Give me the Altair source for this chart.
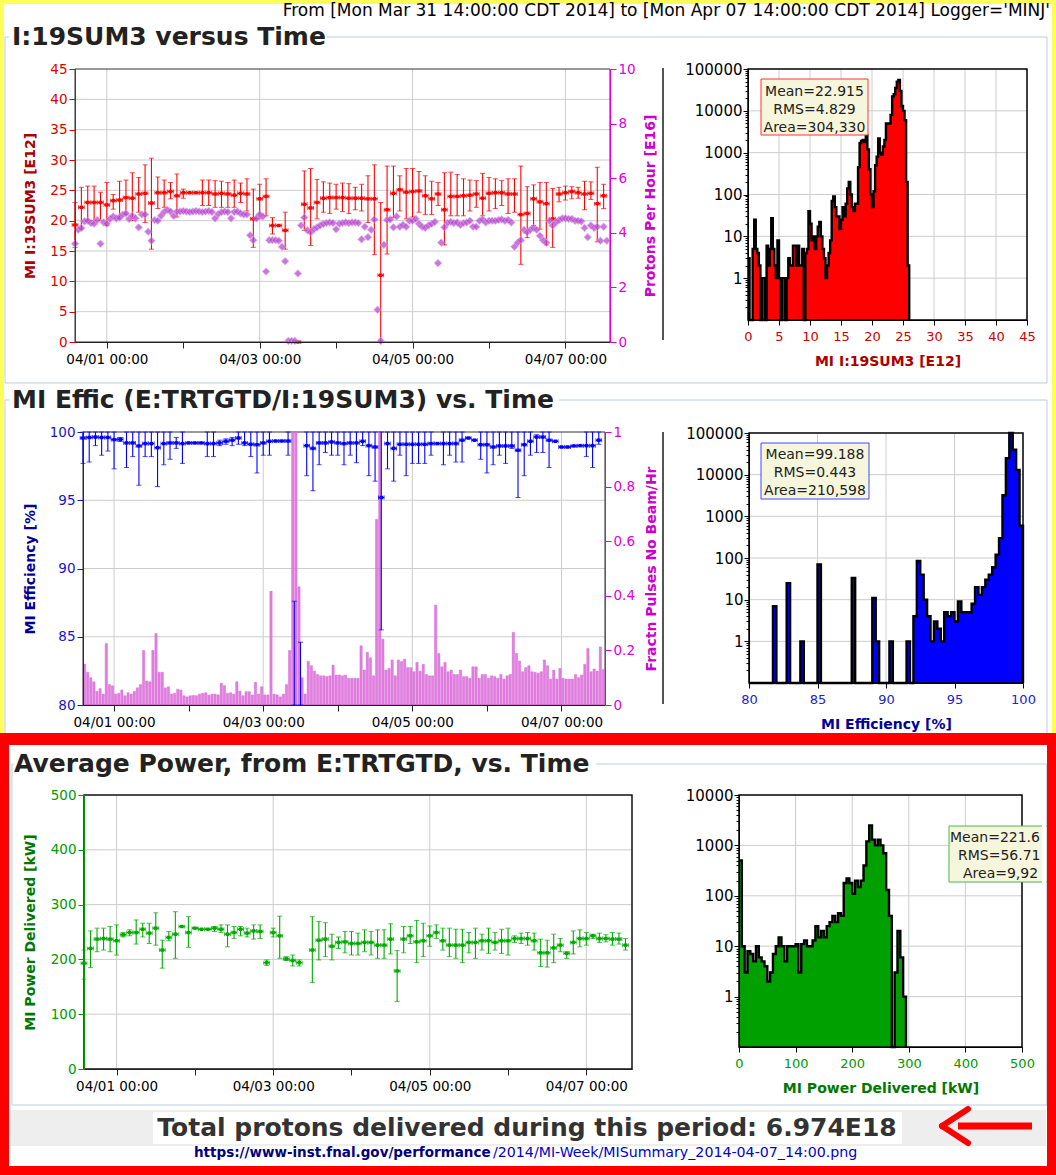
import altair as alt
import pandas as pd

W, H = 1056, 1175
FONT = "DejaVu Sans"

# ---------------- text ----------------
HEADER = "From [Mon Mar 31 14:00:00 CDT 2014] to [Mon Apr 07 14:00:00 CDT 2014] Logger='MINJ'"
SECTION_TITLES = ["I:19SUM3 versus Time", "MI Effic (E:TRTGTD/I:19SUM3) vs. Time",
                  "Average Power, from E:TRTGTD, vs. Time"]
TOTAL_TEXT = "Total protons delivered during this period: 6.974E18"
URL_HEAD = "https://www-inst.fnal.gov/performance"
URL_TAIL = "/2014/MI-Week/MISummary_2014-04-07_14:00.png"
STATS1 = ["Mean=22.915", "RMS=4.829", "Area=304,330"]
STATS2 = ["Mean=99.188", "RMS=0.443", "Area=210,598"]
STATS3 = ["Mean=221.6", "RMS=56.71", "Area=9,92"]   # box is cut off at the panel edge

# ---------------- time axis (hours since Mar 31 14:00) ----------------
TIME_TICKS = [10, 34, 58, 82, 106, 130, 154]
TIME_LABELS = ["04/01 00:00", "", "04/03 00:00", "", "04/05 00:00", "", "04/07 00:00"]
TIME_GRID = [10, 58, 106, 154]
HOURS = list(range(168))
HOURS2 = list(range(0, 168, 2))

# ---------------- I:19SUM3 (2-hour averages, E12) ----------------
I19_MEAN = [19.3, 22.2, 23.0, 23.0, 23.0, 22.6, 23.3, 23.4, 23.8, 23.7,
            24.4, 24.5, 22.9, 24.6, 24.6, 24.8, 24.1, 24.6, 24.6, 24.6,
            24.6, 24.6, 24.4, 24.5, 24.4, 24.2, 24.5, 24.4, 20.3, 23.6,
            24.0, 19.2, 19.2, 18.4, None, 0.0, 22.7, 22.1, 23.0, 23.7,
            23.8, 23.8, 23.8, 23.7, 23.7, 23.7, 23.6, 23.6, 11.0, 21.8,
            24.5, 25.1, 24.7, 24.8, 24.9, 24.1, 23.6, 24.4, 21.8, 24.0,
            24.0, 24.1, 24.2, 24.4, 23.7, 24.5, 24.6, 24.6, 24.4, 24.4,
            21.0, 21.2, 23.6, 23.1, 22.8, 20.3, 24.4, 24.6, 24.8, 24.6,
            24.4, 24.5, 22.8, 24.1]
I19_LO = [15.6, 18.6, 20.0, 20.0, 20.0, 19.2, 21.9, 20.3, 21.0, 20.0,
          21.4, 19.7, 15.3, 22.0, 22.2, 23.6, 20.6, 23.7, 24.6, 24.6,
          22.5, 22.5, 22.2, 22.2, 22.2, 22.2, 23.0, 21.6, 15.6, 20.3,
          20.8, 17.8, 19.2, 15.3, None, 0.0, 18.4, 15.9, 20.3, 21.4,
          21.2, 21.9, 21.5, 21.2, 21.8, 21.6, 19.7, 14.4, 0.0, 14.5,
          20.5, 21.6, 20.3, 20.6, 21.4, 21.0, 21.0, 22.5, 16.0, 20.8,
          20.8, 20.8, 21.6, 22.2, 20.8, 21.6, 22.0, 22.5, 21.2, 21.4,
          12.8, 17.2, 19.2, 18.6, 16.0, 15.6, 23.1, 23.4, 23.6, 23.7,
          21.8, 23.5, 16.5, 22.0]
I19_HI = [23.0, 25.5, 25.7, 25.7, 24.7, 26.3, 24.3, 26.5, 26.7, 27.9,
          27.1, 29.2, 30.3, 27.2, 26.7, 26.3, 27.7, 25.2, 24.6, 24.6,
          26.7, 26.7, 26.6, 26.5, 26.3, 26.7, 26.2, 26.9, 25.2, 26.0,
          26.9, 20.5, 19.2, 21.4, None, 0.0, 28.2, 28.6, 26.8, 26.4,
          26.2, 26.0, 26.2, 26.1, 25.5, 26.0, 27.4, 29.2, 23.0, 29.0,
          29.0, 27.4, 28.6, 28.6, 28.1, 27.4, 26.5, 26.3, 27.9, 28.0,
          27.6, 26.9, 26.7, 26.6, 27.8, 27.1, 26.9, 26.6, 26.9, 26.9,
          29.0, 25.6, 25.9, 26.3, 26.3, 25.3, 25.5, 25.7, 25.6, 25.5,
          26.5, 26.4, 28.8, 26.0]

# ---------------- protons per hour (E16), hourly ----------------
PPH = [3.60, 4.11, 4.18, 4.42, 4.44, 4.36, 4.33, 4.47, 3.60, 4.38,
       4.33, 4.51, 4.60, 4.53, 4.56, 4.67, 4.71, 4.51, 4.62, 4.53,
       4.20, 4.67, 4.67, 4.04, 3.71, 4.47, 4.44, 4.62, 4.76, 4.84,
       4.78, 4.62, 4.78, 4.78, 4.80, 4.78, 4.76, 4.78, 4.80, 4.78,
       4.76, 4.78, 4.80, 4.76, 4.53, 4.69, 4.76, 4.78, 4.76, 4.53,
       4.76, 4.78, 4.71, 4.67, 4.67, 3.91, 3.73, 4.53, 4.67, 4.60,
       2.58, 3.73, 3.73, 3.73, 3.71, 3.49, 2.96, 0.04, 0.04, 0.04,
       2.51, 4.27, 4.56, 4.09, 4.02, 4.13, 4.20, 4.27, 4.33, 4.36,
       4.38, 4.36, 4.13, 4.33, 4.36, 4.38, 4.36, 4.38, 4.38, 4.36,
       3.76, 4.22, 3.84, 4.11, 4.49, 1.18, 0.04, 3.56, 4.47, 4.49,
       4.20, 4.60, 4.22, 4.29, 4.22, 4.44, 4.44, 4.51, 4.33, 4.22,
       4.18, 4.27, 4.33, 4.40, 2.89, 3.64, 4.20, 4.36, 4.40, 4.36,
       4.38, 4.29, 4.36, 4.38, 4.44, 4.22, 4.22, 4.44, 4.49, 4.38,
       4.44, 4.44, 4.44, 4.47, 4.49, 4.44, 4.47, 4.38, 3.49, 3.64,
       3.73, 4.11, 4.02, 4.11, 4.18, 4.11, 3.89, 3.73, 3.64, 4.44,
       4.27, 4.38, 4.47, 4.53, 4.53, 4.51, 4.51, 4.44, 4.44, 4.42,
       4.18, 3.84, 4.27, 4.18, 4.22, 3.71, 4.22, 3.71]

# ---------------- MI efficiency (2-hour, %) ----------------
EFF_MEAN = [99.56, 99.6, 99.63, 99.6, 99.6, 99.44, 99.46, 99.2, 99.2, 98.98,
            99.15, 99.15, 98.85, 99.15, 99.2, 99.2, 99.15, 99.2, 99.2, 99.2,
            99.15, 99.15, 99.2, 99.32, 99.4, 99.56, 99.2, 99.1, 99.07, 99.2,
            99.32, 99.34, 99.34, 99.34, None, None, 99.0, 98.8, 99.2, 99.2,
            99.27, 99.2, 99.15, 99.2, 99.2, 99.32, 99.0, 98.9, 95.2, 99.15,
            98.8, 99.1, 99.1, 99.1, 99.1, 99.1, 99.15, 99.15, 99.15, 99.15,
            99.15, 99.4, 99.56, 99.4, 99.07, 99.07, 98.9, 98.98, 98.98, 98.98,
            98.66, 99.07, 99.32, 99.63, 99.63, 99.4, 99.32, 98.9, 98.9, 98.98,
            99.0, 99.0, 99.0, 99.4]
EFF_LO = [97.7, 97.8, 99.0, 98.3, 98.6, 97.3, 99.3, 97.4, 98.2, 96.1,
          98.2, 98.2, 96.0, 97.6, 98.0, 98.8, 97.7, 99.2, 99.2, 99.2,
          98.2, 98.2, 99.0, 99.1, 99.0, 99.1, 99.0, 98.2, 97.0, 98.3,
          98.3, 99.34, 99.34, 98.3, 79.0, 79.0, 96.8, 95.7, 97.6, 98.5,
          98.3, 98.3, 97.6, 98.3, 97.75, 99.0, 96.8, 96.4, 85.5, 97.3,
          96.4, 98.3, 96.8, 97.7, 97.7, 97.7, 98.3, 99.15, 97.6, 98.3,
          97.8, 97.8, 99.56, 99.4, 98.0, 97.0, 97.6, 98.3, 97.7, 98.8,
          95.2, 96.8, 98.3, 98.5, 98.5, 97.4, 99.32, 98.9, 98.9, 98.98,
          99.0, 98.2, 97.4, 99.1]
EFF_HI = [100, 100, 100, 100, 100, 100, 99.6, 100, 100, 100,
          100, 100, 100, 100, 100, 99.6, 100, 99.2, 99.2, 99.2,
          100, 100, 99.4, 99.5, 99.6, 100, 100, 100, 100, 100,
          100, 99.34, 99.34, 100, 87.6, 84.6, 100, 100, 100, 100,
          100, 100, 100, 100, 100, 100, 100, 100, 100, 100,
          100, 100, 100, 100, 100, 100, 100, 99.15, 100, 100,
          100, 100, 99.56, 99.4, 100, 100, 100, 100, 100, 100,
          100, 100, 100, 99.8, 100, 100, 99.32, 98.9, 98.9, 98.98,
          99.0, 100, 100, 100]

# ---------------- fraction of pulses with no beam, hourly ----------------
NOBEAM = [0.15, 0.12, 0.10, 0.085, 0.05, 0.06, 0.04, 0.225, 0.075, 0.07,
          0.04, 0.043, 0.055, 0.034, 0.045, 0.04, 0.05, 0.063, 0.075, 0.2,
          0.088, 0.085, 0.2, 0.262, 0.12, 0.12, 0.063, 0.067, 0.04, 0.043,
          0.058, 0.055, 0.034, 0.03, 0.034, 0.035, 0.034, 0.04, 0.043, 0.045,
          0.036, 0.04, 0.04, 0.037, 0.08, 0.071, 0.043, 0.045, 0.04, 0.085,
          0.051, 0.034, 0.049, 0.049, 0.037, 0.083, 0.04, 0.067, 0.037, 0.037,
          0.417, 0.04, 0.037, 0.03, 0.04, 0.075, 0.2, 1.2, 1.2, 0.433,
          0.1, 0.04, 0.16, 0.144, 0.124, 0.112, 0.107, 0.107, 0.104, 0.107,
          0.146, 0.11, 0.11, 0.107, 0.11, 0.098, 0.098, 0.098, 0.098, 0.217,
          0.128, 0.193, 0.173, 0.107, 0.68, 1.2, 0.241, 0.128, 0.134, 0.165,
          0.107, 0.165, 0.159, 0.168, 0.137, 0.137, 0.122, 0.156, 0.124, 0.149,
          0.112, 0.107, 0.107, 0.366, 0.189, 0.14, 0.156, 0.122, 0.128, 0.112,
          0.112, 0.128, 0.104, 0.104, 0.098, 0.14, 0.14, 0.098, 0.112, 0.112,
          0.098, 0.107, 0.104, 0.098, 0.112, 0.095, 0.107, 0.112, 0.266, 0.189,
          0.161, 0.122, 0.137, 0.144, 0.122, 0.12, 0.116, 0.122, 0.165, 0.144,
          0.095, 0.128, 0.095, 0.134, 0.098, 0.095, 0.095, 0.095, 0.112, 0.1,
          0.11, 0.149, 0.207, 0.122, 0.132, 0.124, 0.213, 0.13]

# ---------------- MI power delivered (2-hour, kW) ----------------
PWR_MEAN = [193, 220, 237, 238, 237, 234, 245, 249, 249, 255,
            248, 257, 217, 240, 246, 260, 249, 257, 255, 255,
            257, 255, 246, 249, 255, 248, 252, 251, 194, 249,
            243, 201, 198, 194, None, 217, 235, 237, 224, 231,
            232, 229, 229, 231, 231, 226, 226, 237, 179, 237,
            243, 232, 234, 243, 249, 234, 226, 226, 226, 231,
            231, 234, 234, 231, 234, 234, 238, 238, 238, 234,
            212, 212, 221, 226, 211, 231, 238, 238, 243, 238,
            238, 237, 237, 226]
PWR_LO = [164, 185, 214, 217, 214, 208, 241, 243, 228, 241,
          229, 226, 184, 234, 202, 260, 222, 257, 255, 255,
          251, 249, 223, 238, 243, 241, 237, 238, 189, 241,
          202, 198, 188, 188, None, 158, 199, 205, 199, 220,
          212, 208, 208, 214, 208, 202, 202, 210, 123, 212,
          229, 194, 205, 224, 238, 217, 205, 202, 194, 212,
          202, 217, 211, 217, 211, 208, 231, 229, 226, 217,
          187, 186, 194, 214, 202, 210, 223, 226, 238, 231,
          232, 226, 228, 217]
PWR_HI = [217, 252, 257, 257, 260, 263, 249, 254, 272, 266,
          266, 285, 235, 251, 287, 260, 278, 257, 255, 255,
          260, 263, 263, 260, 260, 257, 263, 263, 199, 257,
          279, 205, 208, 199, None, 278, 269, 267, 246, 241,
          251, 251, 248, 254, 251, 254, 254, 265, 216, 260,
          260, 271, 266, 261, 263, 257, 257, 255, 255, 249,
          257, 246, 257, 249, 255, 257, 243, 248, 249, 248,
          237, 235, 246, 238, 214, 252, 254, 249, 246, 248,
          245, 249, 248, 238]

# ---------------- histograms ----------------
H1_START, H1_WIDTH = 0.0, 0.25
H1_COUNTS = [3, 0, 0, 5, 25, 5, 4, 2, 0, 1,
             1, 0, 6, 2, 5, 27, 5, 2, 1, 8,
             1, 0, 1, 1, 0, 1, 3, 2, 2, 6,
             6, 2, 6, 2, 2, 5, 0, 4, 5, 40,
             20, 8, 10, 5, 10, 17, 22, 10, 5, 3,
             1, 2, 4, 8, 70, 90, 50, 30, 30, 15,
             25, 50, 30, 60, 140, 200, 100, 50, 40, 60,
             60, 450, 1700, 1900, 2000, 1800, 2600, 1200, 400, 100,
             50, 120, 500, 800, 2200, 1000, 900, 1400, 2000, 5000,
             5000, 5000, 8000, 22000, 25000, 35000, 50000, 55000, 30000, 13000,
             10000, 6000, 200, 2]
H2_START, H2_WIDTH = 80.0, 0.25
H2_COUNTS = [0, 0, 0, 0, 0, 0, 0, 7, 0, 0,
             0, 25, 0, 0, 0, 1, 0, 0, 0, 0,
             70, 0, 0, 0, 0, 0, 0, 0, 0, 0,
             33, 0, 0, 0, 0, 0, 11, 1, 0, 0,
             0, 1, 0, 0, 0, 0, 1, 0, 4, 85,
             40, 10, 4, 1, 3, 2, 1, 5, 4, 5,
             3, 9, 5, 5, 5, 8, 20, 13, 20, 30,
             40, 60, 120, 300, 3200, 25000, 100000, 40000, 13000, 600]
H3_START, H3_WIDTH = 0.0, 5.0
H3_COUNTS = [500, 10, 3, 8, 7, 5, 10, 6, 5, 4,
             2, 3, 7, 10, 15, 10, 5, 10, 10, 10,
             11, 3, 11, 13, 10, 10, 13, 25, 15, 20,
             15, 25, 30, 40, 30, 45, 40, 180, 220, 180,
             110, 200, 150, 200, 400, 1200, 2500, 1300, 1000, 1300,
             1000, 700, 130, 40, 0, 3, 20, 6, 1]

# ---------------- layout (pixels) ----------------
P1 = dict(x0=75, x1=610, yt=69, yb=342)
P2 = dict(x0=83, x1=605, yt=432, yb=705)
P3 = dict(x0=84, x1=632, yt=795, yb=1069)
Q1 = dict(x0=748, x1=1027, yt=69, yb=320)
Q2 = dict(x0=749, x1=1023, yt=433, yb=683)
Q3 = dict(x0=739, x1=1022, yt=795, yb=1047)
TDOM = [0, 168]
GRID = "#cccccc"
ONE = pd.DataFrame({"o": [0]})


def xsc(P, dom):
    return alt.Scale(domain=dom, range=[P["x0"], P["x1"]], nice=False, zero=False)


def ysc(P, dom, log=False, clamp=False):
    if log:
        return alt.Scale(type="log", domain=dom, range=[P["yb"], P["yt"]], nice=False, clamp=clamp)
    return alt.Scale(domain=dom, range=[P["yb"], P["yt"]], nice=False, zero=False, clamp=clamp)


def box(x, x2, y, y2, stroke="", fill="", sw=1.0):
    kw = {}
    if stroke:
        kw["stroke"] = stroke
        kw["strokeWidth"] = sw
    if fill:
        kw["fill"] = fill
    else:
        kw["fillOpacity"] = 0
    return alt.Chart(ONE).mark_rect(**kw).encode(
        x=alt.value(x), x2=alt.value(x2), y=alt.value(y), y2=alt.value(y2))


def seg(x, y, x2, y2, color, sw=1.0, cap="butt"):
    return alt.Chart(ONE).mark_rule(color=color, strokeWidth=sw, strokeCap=cap).encode(
        x=alt.value(x), y=alt.value(y), x2=alt.value(x2), y2=alt.value(y2))


def label(x, y, s, size, color="black", weight="normal", align="left", font=FONT):
    return alt.Chart(ONE).mark_text(text=s, fontSize=size, color=color, fontWeight=weight,
                                    align=align, baseline="middle", font=font).encode(
        x=alt.value(x), y=alt.value(y))


def hgrid(P, dom, vals, log=False):
    df = pd.DataFrame({"g": vals})
    return alt.Chart(df).mark_rule(color=GRID, strokeWidth=1).encode(
        x=alt.value(P["x0"]), x2=alt.value(P["x1"]),
        y=alt.Y("g:Q", scale=ysc(P, dom, log=log), axis=None))


def vgrid(P, dom, vals):
    df = pd.DataFrame({"g": vals})
    return alt.Chart(df).mark_rule(color=GRID, strokeWidth=1).encode(
        x=alt.X("g:Q", scale=xsc(P, dom), axis=None),
        y=alt.value(P["yt"]), y2=alt.value(P["yb"]))


def axis_layer(P, xdom, ydom, xaxis=None, yaxis=None, log=False):
    df = pd.DataFrame({"a": [xdom[0]], "b": [ydom[0]]})
    return alt.Chart(df).mark_point(opacity=0).encode(
        x=alt.X("a:Q", scale=xsc(P, xdom), axis=xaxis),
        y=alt.Y("b:Q", scale=ysc(P, ydom, log=log), axis=yaxis))


COMMON = dict(grid=False, zindex=1, labelFont=FONT, titleFont=FONT, labelFlush=False,
              labelOverlap=False)


def time_axis(P):
    expr = "''"
    for t, l in reversed(list(zip(TIME_TICKS, TIME_LABELS))):
        expr = f"datum.value == {t} ? '{l}' : ({expr})"
    return alt.Axis(orient="bottom", offset=P["yb"] - H, values=TIME_TICKS, labelExpr=expr,
                    tickSize=6, tickColor="#222222", domainColor="#222222", labelColor="black",
                    labelFontSize=13.5, labelPadding=4, title=None, **COMMON)


def left_axis(P, vals, color, title, tcolor, fmt="d", lsize=13.5, tsize=6, pad=2, title_x=30):
    return alt.Axis(orient="left", offset=-P["x0"], values=vals, format=fmt, tickSize=tsize,
                    tickColor=color, domainColor=color, labelColor=color, labelFontSize=lsize,
                    labelPadding=pad, title=title, titleColor=tcolor, titleFontSize=14,
                    titleFontWeight="bold", titleAngle=270, titleBaseline="middle",
                    titleX=title_x - P["x0"], titleY=(P["yt"] + P["yb"]) / 2, **COMMON)


def right_axis(P, vals, color, title, tcolor, fmt="d", title_x=650):
    return alt.Axis(orient="right", offset=P["x1"] - W, values=vals, format=fmt, tickSize=6,
                    tickColor=color, domainColor=color, labelColor=color, labelFontSize=13.5,
                    labelPadding=2, title=title, titleColor=tcolor, titleFontSize=14,
                    titleFontWeight="bold", titleAngle=270, titleBaseline="middle",
                    titleX=title_x - P["x1"], titleY=(P["yt"] + P["yb"]) / 2, **COMMON)


def series(mean, lo, hi, P, ydom, color, clamp=False, dash=0.9):
    df = pd.DataFrame({"t": HOURS2, "v": mean, "lo": lo, "hi": hi})
    X = lambda f: alt.X(f + ":Q", scale=xsc(P, TDOM), axis=None)
    Y = lambda f: alt.Y(f + ":Q", scale=ysc(P, ydom, clamp=clamp), axis=None)
    b = alt.Chart(df)
    return [
        b.mark_rule(color=color, strokeWidth=1.1).encode(x=X("t"), y=Y("lo"), y2="hi:Q"),
        b.mark_tick(color=color, orient="horizontal", size=5, thickness=1).encode(x=X("t"), y=Y("lo")),
        b.mark_tick(color=color, orient="horizontal", size=5, thickness=1).encode(x=X("t"), y=Y("hi")),
        b.transform_calculate(ta=f"datum.t - {dash}", tb=f"datum.t + {dash}").mark_rule(
            color=color, strokeWidth=1.5).encode(x=X("ta"), x2="tb:Q", y=Y("v")),
        b.transform_calculate(ta=f"datum.t - {dash}").mark_tick(
            color=color, orient="vertical", size=4, thickness=1).encode(x=X("ta"), y=Y("v")),
        b.transform_calculate(tb=f"datum.t + {dash}").mark_tick(
            color=color, orient="vertical", size=4, thickness=1).encode(x=X("tb"), y=Y("v")),
        b.mark_square(color=color, size=12, opacity=1).encode(x=X("t"), y=Y("v")),
    ]


def histogram(start, width, counts, Q, xdom, ydom, fill):
    edges = [start + width * i for i in range(len(counts) + 1)]
    df = pd.DataFrame({"x": edges, "c": counts + [0]})
    X = alt.X("x:Q", scale=xsc(Q, xdom), axis=None)
    Y = alt.Y("cc:Q", scale=ysc(Q, ydom, log=True), axis=None)
    b = alt.Chart(df).transform_calculate(cc=f"max(datum.c, {ydom[0]})")
    return [
        b.mark_area(interpolate="step-after", color=fill, opacity=1).encode(
            x=X, y=Y, y2=alt.datum(ydom[0])),
        b.mark_line(interpolate="step-after", color="black", strokeWidth=2.4).encode(x=X, y=Y),
    ]


def hist_axes(Q, xdom, ydom, xvals, xcolor, title, tcolor, majors):
    minors = [m * 10.0 ** e for e in range(-1, 5) for m in range(2, 10) if m * 10.0 ** e < ydom[1]]
    xa = alt.Axis(orient="bottom", offset=Q["yb"] - H, values=xvals, format="d", tickSize=5,
                  tickColor="black", domainColor="black", labelColor=xcolor, labelFontSize=13,
                  labelPadding=5, title=title, titleColor=tcolor, titleFontSize=14,
                  titleFontWeight="bold", titleBaseline="middle", titleX=(Q["x0"] + Q["x1"]) / 2,
                  titleY=41, **COMMON)
    ya = alt.Axis(orient="left", offset=-Q["x0"], values=majors, format="d", tickSize=5,
                  tickColor="black", domainColor="black", labelColor="black", labelFontSize=15,
                  labelPadding=1, title=None, **COMMON)
    ym = alt.Axis(orient="left", offset=-Q["x0"], values=minors, tickSize=3, tickColor="black",
                  labels=False, domain=False, title=None, grid=False, zindex=1)
    return [axis_layer(Q, xdom, ydom, xaxis=xa, yaxis=ya, log=True),
            axis_layer(Q, xdom, ydom, yaxis=ym, log=True)]


layers = []

# ---- page background and frames ----
YEL = "#ffff55"
RED = "#ff0000"
FS = "#bccde0"
layers += [
    box(0, W, 0, H, fill="white"),
    box(0, W, 0, 4, fill=YEL), box(0, 4, 0, 733, fill=YEL), box(1052, W, 0, 733, fill=YEL),
    label(1050, 11, HEADER, 17, align="right"),
    # fieldsets
    seg(5, 37, 5, 383, FS), seg(1047, 37, 1047, 383, FS), seg(5, 383, 1047, 383, FS),
    seg(5, 37, 9, 37, FS), seg(327, 37, 1047, 37, FS),
    seg(5, 400, 5, 745, FS), seg(1047, 400, 1047, 745, FS),
    seg(5, 400, 9, 400, FS), seg(559, 400, 1047, 400, FS),
    seg(12, 764, 12, 1105, FS), seg(1047, 764, 1047, 1105, FS), seg(12, 1105, 1047, 1105, FS),
    seg(12, 764, 14, 764, FS), seg(596, 764, 1047, 764, FS),
    label(12, 37, SECTION_TITLES[0], 25, color="#222222", weight="bold"),
    label(12, 400, SECTION_TITLES[1], 25, color="#222222", weight="bold"),
    label(14, 764, SECTION_TITLES[2], 25, color="#222222", weight="bold"),
    seg(663, 68, 663, 340, "#555555", 2), seg(663, 432, 663, 704, "#555555", 2),
]

# ---- panel 1: I:19SUM3 and protons/hour ----
Y1 = [0, 45]
R1 = [0, 10]
layers += [hgrid(P1, Y1, [5, 10, 15, 20, 25, 30, 35, 40]), vgrid(P1, TDOM, TIME_GRID),
           box(P1["x0"], P1["x1"], P1["yt"], P1["yb"], stroke="#333333")]
layers += series(I19_MEAN, I19_LO, I19_HI, P1, Y1, "#ff0000")
df_pph = pd.DataFrame({"t": HOURS, "v": PPH})
layers.append(alt.Chart(df_pph).mark_point(shape="diamond", filled=True, size=58, color="#b54bcf",
                                           opacity=0.75, stroke="#e3a0ee", strokeWidth=0.8).encode(
    x=alt.X("t:Q", scale=xsc(P1, TDOM), axis=None),
    y=alt.Y("v:Q", scale=ysc(P1, R1), axis=None)))
layers += [
    axis_layer(P1, TDOM, Y1, xaxis=time_axis(P1),
               yaxis=left_axis(P1, list(range(0, 50, 5)), "#dd0000", "MI I:19SUM3 [E12]", "#aa0000")),
    axis_layer(P1, TDOM, R1, yaxis=right_axis(P1, [0, 2, 4, 6, 8, 10], "#dd00dd",
                                              "Protons Per Hour [E16]", "#cc00cc")),
]

# ---- panel 2: efficiency and no-beam fraction ----
Y2 = [80, 100]
R2 = [0, 1]
layers += [hgrid(P2, Y2, [85, 90, 95]), vgrid(P2, TDOM, TIME_GRID),
           box(P2["x0"], P2["x1"], P2["yt"], P2["yb"], stroke="#333333")]
df_nb = pd.DataFrame({"t": HOURS, "v": NOBEAM})
layers.append(alt.Chart(df_nb).transform_calculate(ta="datum.t + 0.12", tb="datum.t + 0.88").mark_rect(
    color="#e277e0", stroke="#d060d0", strokeWidth=0.4, opacity=0.95).encode(
    x=alt.X("ta:Q", scale=xsc(P2, TDOM), axis=None), x2="tb:Q",
    y=alt.Y("v:Q", scale=ysc(P2, R2, clamp=True), axis=None), y2=alt.datum(0)))
layers += series(EFF_MEAN, EFF_LO, EFF_HI, P2, Y2, "#0000ff", clamp=True)
layers += [
    axis_layer(P2, TDOM, Y2, xaxis=time_axis(P2),
               yaxis=left_axis(P2, [80, 85, 90, 95, 100], "#1515cc", "MI Efficiency [%]", "#000099")),
    axis_layer(P2, TDOM, R2, yaxis=right_axis(P2, [0, 0.2, 0.4, 0.6, 0.8, 1], "#dd00dd",
                                              "Fractn Pulses No Beam/Hr", "#cc00cc", fmt=".1~f",
                                              title_x=651)),
]

# ---- panel 3: power ----
Y3 = [0, 500]
layers += [hgrid(P3, Y3, [100, 200, 300, 400]), vgrid(P3, TDOM, TIME_GRID),
           box(P3["x0"], P3["x1"], P3["yt"], P3["yb"], stroke="#111111", sw=1.5)]
layers += series(PWR_MEAN, PWR_LO, PWR_HI, P3, Y3, "#00aa00")
layers += [
    axis_layer(P3, TDOM, Y3, xaxis=time_axis(P3),
               yaxis=left_axis(P3, [0, 100, 200, 300, 400, 500], "#009900",
                               "MI Power Delivered [kW]", "#007700")),
]

# ---- histograms ----
HY1 = [0.1, 100000]
HY3 = [0.1, 10000]
DEC5 = [1, 10, 100, 1000, 10000, 100000]
DEC4 = [1, 10, 100, 1000, 10000]

HX1 = [0, 45]
layers += [hgrid(Q1, HY1, [1, 10, 100, 1000, 10000], log=True),
           vgrid(Q1, HX1, list(range(5, 45, 5)))]
layers += histogram(H1_START, H1_WIDTH, H1_COUNTS, Q1, HX1, HY1, "#ff0000")
layers += [box(Q1["x0"], Q1["x1"], Q1["yt"], Q1["yb"], stroke="black", sw=1.5)]
layers += hist_axes(Q1, HX1, HY1, list(range(0, 50, 5)), "#cc0000", "MI I:19SUM3 [E12]",
                    "#aa0000", DEC5)
layers += [box(761, 868, 79, 135, stroke="#ff3333", fill="#f6f6dc"),
           label(814.5, 92, STATS1[0], 14, "#222222", align="center"),
           label(814.5, 110, STATS1[1], 14, "#222222", align="center"),
           label(814.5, 128, STATS1[2], 14, "#222222", align="center")]

HX2 = [80, 100]
layers += [hgrid(Q2, HY1, [1, 10, 100, 1000, 10000], log=True),
           vgrid(Q2, HX2, [85, 90, 95])]
layers += histogram(H2_START, H2_WIDTH, H2_COUNTS, Q2, HX2, HY1, "#0000ff")
layers += [box(Q2["x0"], Q2["x1"], Q2["yt"], Q2["yb"], stroke="black", sw=1.5)]
layers += hist_axes(Q2, HX2, HY1, [80, 85, 90, 95, 100], "#2222cc", "MI Efficiency [%]",
                    "#000099", DEC5)
layers += [box(761, 869, 443, 499, stroke="#4444ff", fill="#f6f6dc"),
           label(815, 455, STATS2[0], 14, "#222222", align="center"),
           label(815, 473, STATS2[1], 14, "#222222", align="center"),
           label(815, 491, STATS2[2], 14, "#222222", align="center")]

HX3 = [0, 500]
layers += [hgrid(Q3, HY3, [1, 10, 100, 1000], log=True),
           vgrid(Q3, HX3, [100, 200, 300, 400])]
layers += histogram(H3_START, H3_WIDTH, H3_COUNTS, Q3, HX3, HY3, "#00a000")
layers += [box(Q3["x0"], Q3["x1"], Q3["yt"], Q3["yb"], stroke="black", sw=1.5)]
layers += hist_axes(Q3, HX3, HY3, [0, 100, 200, 300, 400, 500], "#009900",
                    "MI Power Delivered [kW]", "#007700", DEC4)
layers += [box(949, 1060, 826, 882, stroke="#44bb44", fill="#f6f6dc"),
           box(1042, 1046, 815, 895, fill="white"),
           label(950, 838, STATS3[0], 14, "#222222"),
           label(958, 856, STATS3[1], 14, "#222222"),
           label(963, 874, STATS3[2], 14, "#222222"),
           seg(1047, 764, 1047, 1105, FS)]

# ---- bottom: red frame, total, arrow, url ----
layers += [
    box(10, 1046, 1110, 1146, fill="#eeeeee"),
    box(153, 902, 1112, 1144, fill="white"),
    label(527, 1128, TOTAL_TEXT, 25, color="#333333", weight="bold", align="center"),
    seg(958, 1126, 1032, 1126, RED, 7),
    seg(942, 1126, 968, 1109, RED, 6, "round"),
    seg(942, 1126, 968, 1143, RED, 6, "round"),
    label(194, 1153, URL_HEAD, 13.5, color="#000080", weight="bold"),
    label(493, 1153, URL_TAIL, 14.2, color="#0000cc"),
    box(0, W, 733, 745, fill=RED), box(0, 9, 733, H, fill=RED),
    box(1047, W, 733, H, fill=RED), box(0, W, 1166, H, fill=RED),
]

chart = alt.layer(*layers).resolve_scale(x="independent", y="independent").properties(
    width=W, height=H, autosize=alt.AutoSizeParams(type="none"), padding=0, background="white"
).configure_view(strokeWidth=0)

chart.save("out.html", embed_options={"renderer": "svg", "actions": False})
